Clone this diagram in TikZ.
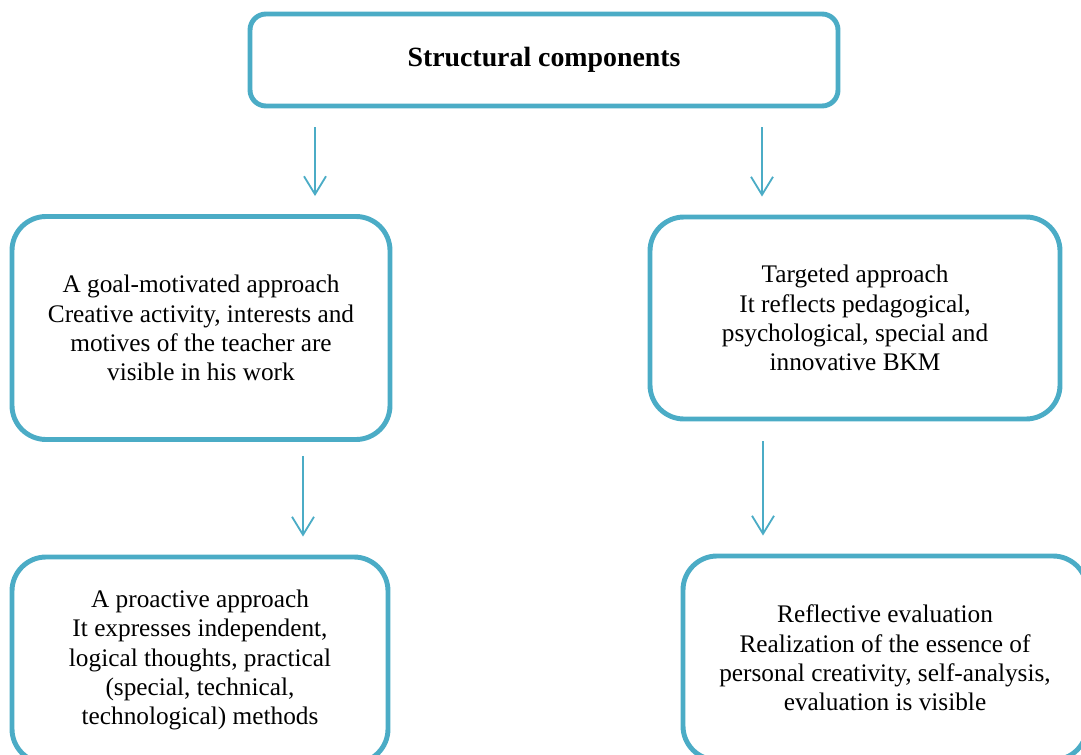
\documentclass[tikz,border=0pt]{standalone}
\usepackage{fontspec}
\setmainfont{Liberation Serif}
\usetikzlibrary{positioning,arrows.meta}
\definecolor{framecolor}{RGB}{75,172,198}

\begin{document}
\begin{tikzpicture}[
    line join=round,
    box/.style={draw=framecolor, line width=3.5pt, rounded corners=0.85cm, fill=white, align=center, inner sep=0pt,
        font=\fontsize{18}{20.8}\selectfont},
    headbox/.style={box, rounded corners=0.4cm, font=\fontsize{19.8}{22}\selectfont\bfseries},
    link/.style={draw=framecolor, line width=1.3pt, -{Straight Barb[length=0.45cm, width=0.55cm]},
        shorten <=0.47cm, shorten >=0.45cm}
]

% Page frame
\clip (0,0) rectangle (27.025,-18.85);

% Header
\node[headbox, minimum width=14.7cm, minimum height=2.3cm] (head) at (13.6,-1.5) {Structural components};

% Second row
\node[box, minimum width=9.45cm, minimum height=5.575cm] (goal) at (5.025,-8.2)
    {A goal-motivated approach\\ Creative activity, interests and\\ motives of the teacher are\\ visible in his work};
\node[box, minimum width=10.25cm, minimum height=5.05cm] (target) at (21.375,-7.95)
    {Targeted approach\\ It reflects pedagogical,\\ psychological, special and\\ innovative BKM};

% Third row
\node[box, minimum width=9.4cm, minimum height=5.15cm] (proactive) at (5.0,-16.5)
    {A proactive approach\\ It expresses independent,\\ logical thoughts, practical\\ (special, technical,\\ technological) methods};
\node[box, minimum width=10.1cm, minimum height=5.1cm] (reflect) at (22.125,-16.45)
    {Reflective evaluation\\ Realization of the essence of\\ personal creativity, self-analysis,\\ evaluation is visible};

% Connections
\draw[link] ([xshift=2.85cm]goal.north |- head.south) -- ([xshift=2.85cm]goal.north);
\draw[link] ([xshift=-2.325cm]target.north |- head.south) -- ([xshift=-2.325cm]target.north);
\draw[link, shorten <=0.35cm] ([xshift=2.575cm]proactive.north |- goal.south) -- ([xshift=2.575cm]proactive.north);
\draw[link, shorten <=0.5cm] ([xshift=-3.05cm]reflect.north |- target.south) -- ([xshift=-3.05cm]reflect.north);

\end{tikzpicture}
\end{document}
